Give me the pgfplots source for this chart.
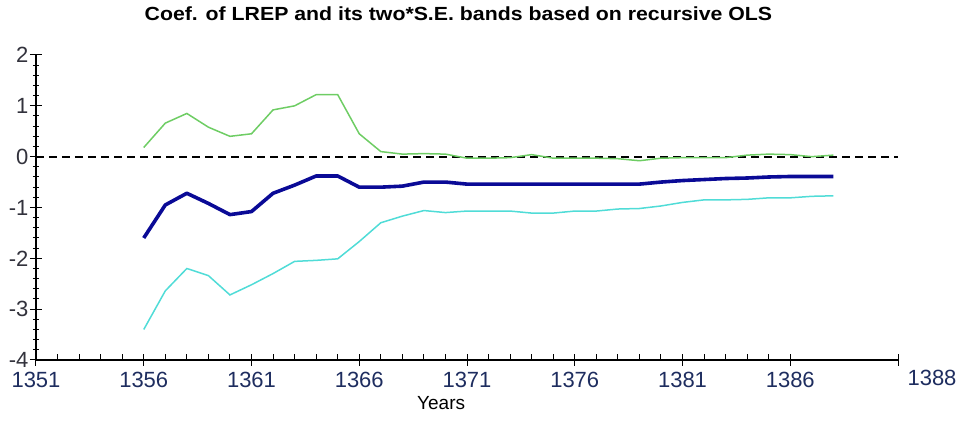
\documentclass[border=0pt]{standalone}
\usepackage{pgfplots}
\pgfplotsset{compat=1.18}
\usepackage{pgfplotstable}
\usepackage{fontspec}
\setmainfont{Liberation Sans}
\newfontfamily\titlefont[FakeStretch=1.12]{Liberation Sans Bold}
\definecolor{bluel}{RGB}{10,10,150}
\definecolor{greenl}{RGB}{110,205,100}
\definecolor{cyanl}{RGB}{80,220,215}
\definecolor{xlab}{RGB}{30,45,95}
\definecolor{ylab}{RGB}{50,50,60}
\pgfplotstableread{
year coef upper lower
1356 -1.60 0.18 -3.40
1357 -0.95 0.66 -2.64
1358 -0.72 0.85 -2.20
1359 -0.92 0.58 -2.34
1360 -1.14 0.40 -2.72
1361 -1.08 0.45 -2.52
1362 -0.72 0.92 -2.30
1363 -0.56 1.00 -2.06
1364 -0.38 1.22 -2.04
1365 -0.38 1.22 -2.01
1366 -0.60 0.45 -1.67
1367 -0.60 0.10 -1.30
1368 -0.58 0.05 -1.17
1369 -0.50 0.06 -1.06
1370 -0.50 0.05 -1.10
1371 -0.54 -0.03 -1.07
1372 -0.54 -0.03 -1.07
1373 -0.54 -0.02 -1.07
1374 -0.54 0.04 -1.11
1375 -0.54 -0.03 -1.11
1376 -0.54 -0.03 -1.07
1377 -0.54 -0.03 -1.07
1378 -0.54 -0.04 -1.03
1379 -0.54 -0.08 -1.02
1380 -0.50 -0.03 -0.97
1381 -0.47 -0.02 -0.90
1382 -0.45 -0.02 -0.85
1383 -0.43 -0.02 -0.85
1384 -0.42 0.03 -0.84
1385 -0.40 0.05 -0.81
1386 -0.39 0.04 -0.81
1387 -0.39 0.00 -0.78
1388 -0.39 0.03 -0.77
}\datatable
\begin{document}
\begin{tikzpicture}
\begin{axis}[
  name=ax,
  scale only axis,
  width=862pt, height=305pt,
  xmin=1351, xmax=1391, ymin=-4, ymax=2,
  axis lines=left,
  axis line style={-, line width=1.2pt},
  xtick={1351,1356,...,1386},
  minor x tick num=4,
  ytick={-4,-3,...,2},
  minor y tick num=4,
  extra x ticks={1391},
  extra x tick labels={1388},
  extra x tick style={xticklabel style={xshift=34pt, yshift=2pt}},
  tick align=center,
  major tick length=12pt,
  minor tick length=6pt,
  every tick/.style={black, line width=1pt},
  minor x tick style={yshift=3pt},
  xticklabel style={font=\fontsize{22}{24}\selectfont, text=xlab, yshift=-3pt},
  yticklabel style={font=\fontsize{22}{24}\selectfont, text=ylab, xshift=2pt},
  x tick label style={/pgf/number format/1000 sep={}},
  /pgf/number format/assume math mode=true,
  xlabel={Years},
  xlabel style={font=\fontsize{19}{22}\selectfont, at={(axis description cs:0.47,0)}, anchor=north, yshift=-33pt},
  title={\titlefont Coef. of LREP and its two*S.E. bands based on recursive OLS},
  title style={font=\fontsize{19}{22}\selectfont, at={(axis description cs:0.49,1)}, anchor=south, yshift=25pt},
  clip=false,
]
\addplot[black, line width=2pt, dash pattern=on 8pt off 5pt] coordinates {(1351,0) (1391,0)};
\addplot[greenl, line width=1.5pt] table[x=year, y=upper] {\datatable};
\addplot[cyanl, line width=1.5pt] table[x=year, y=lower] {\datatable};
\addplot[bluel, line width=3.6pt, line join=round] table[x=year, y=coef] {\datatable};
\end{axis}
\path (ax.south west) ++(-36pt,-73pt);
\path (ax.north east) ++(63pt,55pt);
\end{tikzpicture}
\end{document}
